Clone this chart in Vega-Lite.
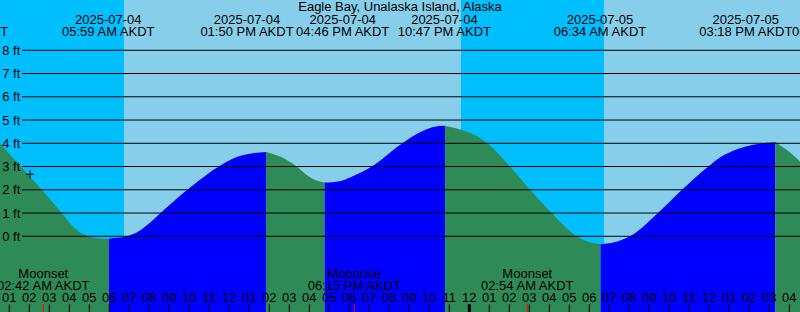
{
  "$schema": "https://vega.github.io/schema/vega-lite/v6.json",
  "width": 800,
  "height": 312,
  "autosize": "none",
  "padding": 0,
  "title": {"text": "Eagle Bay, Unalaska Island, Alaska", "offset": -24, "baseline": "alphabetic", "anchor": "middle", "frame": "group", "font": "Liberation Sans", "fontSize": 13, "fontWeight": "normal", "color": "black"},
  "config": {
    "view": {"stroke": null},
    "text": {"font": "Liberation Sans", "fontSize": 13, "color": "black"}
  },
  "datasets": {
    "tide": [
      {"h": 0.535, "ft": 4.0, "seg": "a", "dir": "falling"},
      {"h": 1.57, "ft": 3.0, "seg": "a", "dir": "falling"},
      {"h": 2.62, "ft": 2.0, "seg": "a", "dir": "falling"},
      {"h": 3.62, "ft": 1.0, "seg": "a", "dir": "falling"},
      {"h": 4.285, "ft": 0.34, "seg": "a", "dir": "falling"},
      {"h": 5.035, "ft": -0.02, "seg": "a", "dir": "falling"},
      {"h": 5.535, "ft": -0.1, "seg": "a", "dir": "falling"},
      {"h": 5.983, "ft": -0.12, "seg": "a", "dir": "falling"},
      {"h": 5.983, "ft": -0.12, "seg": "b", "dir": "rising"},
      {"h": 6.035, "ft": -0.1, "seg": "b", "dir": "rising"},
      {"h": 6.785, "ft": -0.02, "seg": "b", "dir": "rising"},
      {"h": 7.535, "ft": 0.25, "seg": "b", "dir": "rising"},
      {"h": 8.035, "ft": 0.58, "seg": "b", "dir": "rising"},
      {"h": 8.535, "ft": 0.98, "seg": "b", "dir": "rising"},
      {"h": 9.2, "ft": 1.49, "seg": "b", "dir": "rising"},
      {"h": 9.9, "ft": 2.0, "seg": "b", "dir": "rising"},
      {"h": 10.535, "ft": 2.43, "seg": "b", "dir": "rising"},
      {"h": 11.37, "ft": 2.95, "seg": "b", "dir": "rising"},
      {"h": 12.2, "ft": 3.35, "seg": "b", "dir": "rising"},
      {"h": 13.035, "ft": 3.55, "seg": "b", "dir": "rising"},
      {"h": 13.833, "ft": 3.63, "seg": "b", "dir": "rising"},
      {"h": 13.833, "ft": 3.63, "seg": "c", "dir": "falling"},
      {"h": 14.535, "ft": 3.43, "seg": "c", "dir": "falling"},
      {"h": 15.37, "ft": 3.0, "seg": "c", "dir": "falling"},
      {"h": 15.87, "ft": 2.64, "seg": "c", "dir": "falling"},
      {"h": 16.37, "ft": 2.4, "seg": "c", "dir": "falling"},
      {"h": 16.767, "ft": 2.31, "seg": "c", "dir": "falling"},
      {"h": 16.767, "ft": 2.31, "seg": "d", "dir": "rising"},
      {"h": 17.535, "ft": 2.37, "seg": "d", "dir": "rising"},
      {"h": 18.035, "ft": 2.53, "seg": "d", "dir": "rising"},
      {"h": 19.12, "ft": 3.0, "seg": "d", "dir": "rising"},
      {"h": 20.535, "ft": 3.93, "seg": "d", "dir": "rising"},
      {"h": 21.535, "ft": 4.47, "seg": "d", "dir": "rising"},
      {"h": 22.2, "ft": 4.7, "seg": "d", "dir": "rising"},
      {"h": 22.783, "ft": 4.75, "seg": "d", "dir": "rising"},
      {"h": 22.783, "ft": 4.75, "seg": "e", "dir": "falling"},
      {"h": 23.87, "ft": 4.5, "seg": "e", "dir": "falling"},
      {"h": 24.385, "ft": 4.3, "seg": "e", "dir": "falling"},
      {"h": 24.9, "ft": 4.0, "seg": "e", "dir": "falling"},
      {"h": 26.035, "ft": 3.0, "seg": "e", "dir": "falling"},
      {"h": 27.035, "ft": 2.0, "seg": "e", "dir": "falling"},
      {"h": 28.12, "ft": 1.0, "seg": "e", "dir": "falling"},
      {"h": 29.37, "ft": 0.0, "seg": "e", "dir": "falling"},
      {"h": 30.035, "ft": -0.26, "seg": "e", "dir": "falling"},
      {"h": 30.567, "ft": -0.34, "seg": "e", "dir": "falling"},
      {"h": 30.567, "ft": -0.34, "seg": "f", "dir": "rising"},
      {"h": 31.2, "ft": -0.27, "seg": "f", "dir": "rising"},
      {"h": 32.035, "ft": 0.0, "seg": "f", "dir": "rising"},
      {"h": 33.435, "ft": 1.0, "seg": "f", "dir": "rising"},
      {"h": 34.635, "ft": 2.0, "seg": "f", "dir": "rising"},
      {"h": 35.95, "ft": 3.0, "seg": "f", "dir": "rising"},
      {"h": 36.535, "ft": 3.39, "seg": "f", "dir": "rising"},
      {"h": 37.535, "ft": 3.79, "seg": "f", "dir": "rising"},
      {"h": 38.87, "ft": 4.02, "seg": "f", "dir": "rising"},
      {"h": 39.3, "ft": 4.05, "seg": "f", "dir": "rising"},
      {"h": 39.3, "ft": 4.05, "seg": "g", "dir": "falling"},
      {"h": 39.87, "ft": 3.72, "seg": "g", "dir": "falling"},
      {"h": 40.535, "ft": 3.22, "seg": "g", "dir": "falling"}
    ],
    "bands": [
      {"h": 0.535, "h2": 6.735, "period": "night"},
      {"h": 6.735, "h2": 23.585, "period": "day"},
      {"h": 23.585, "h2": 30.735, "period": "night"},
      {"h": 30.735, "h2": 40.535, "period": "day"}
    ],
    "levels": [
      {"ft": 0, "label": "0 ft"}, {"ft": 1, "label": "1 ft"}, {"ft": 2, "label": "2 ft"},
      {"ft": 3, "label": "3 ft"}, {"ft": 4, "label": "4 ft"}, {"ft": 5, "label": "5 ft"},
      {"ft": 6, "label": "6 ft"}, {"ft": 7, "label": "7 ft"}, {"ft": 8, "label": "8 ft"}
    ],
    "hours": [
      {"h": 1, "label": "01"}, {"h": 2, "label": "02"}, {"h": 3, "label": "03"}, {"h": 4, "label": "04"},
      {"h": 5, "label": "05"}, {"h": 6, "label": "06"}, {"h": 7, "label": "07"}, {"h": 8, "label": "08"},
      {"h": 9, "label": "09"}, {"h": 10, "label": "10"}, {"h": 11, "label": "11"}, {"h": 12, "label": "12"},
      {"h": 13, "label": "01"}, {"h": 14, "label": "02"}, {"h": 15, "label": "03"}, {"h": 16, "label": "04"},
      {"h": 17, "label": "05"}, {"h": 18, "label": "06"}, {"h": 19, "label": "07"}, {"h": 20, "label": "08"},
      {"h": 21, "label": "09"}, {"h": 22, "label": "10"}, {"h": 23, "label": "11"}, {"h": 24, "label": "12"},
      {"h": 25, "label": "01"}, {"h": 26, "label": "02"}, {"h": 27, "label": "03"}, {"h": 28, "label": "04"},
      {"h": 29, "label": "05"}, {"h": 30, "label": "06"}, {"h": 31, "label": "07"}, {"h": 32, "label": "08"},
      {"h": 33, "label": "09"}, {"h": 34, "label": "10"}, {"h": 35, "label": "11"}, {"h": 36, "label": "12"},
      {"h": 37, "label": "01"}, {"h": 38, "label": "02"}, {"h": 39, "label": "03"}, {"h": 40, "label": "04"}
    ],
    "tidelabels": [
      {"h": -1.385, "date": "2025-07-03", "time": "10:34 PM AKDT"},
      {"h": 5.95, "date": "2025-07-04", "time": "05:59 AM AKDT"},
      {"h": 12.885, "date": "2025-07-04", "time": "01:50 PM AKDT"},
      {"h": 17.67, "date": "2025-07-04", "time": "04:46 PM AKDT"},
      {"h": 22.755, "date": "2025-07-04", "time": "10:47 PM AKDT"},
      {"h": 30.535, "date": "2025-07-05", "time": "06:34 AM AKDT"},
      {"h": 37.825, "date": "2025-07-05", "time": "03:18 PM AKDT"},
      {"h": 42.47, "date": "2025-07-05", "time": "06:31 PM AKDT"}
    ],
    "moon": [
      {"h": 2.7, "event": "Moonset", "time": "02:42 AM AKDT"},
      {"h": 18.25, "event": "Moonrise", "time": "06:15 PM AKDT"},
      {"h": 26.9, "event": "Moonset", "time": "02:54 AM AKDT"}
    ],
    "marker": [{"h": 2.035, "ft": 2.667}]
  },
  "layer": [
    {
      "data": {"name": "bands"},
      "mark": {"type": "rect"},
      "encoding": {
        "x": {"field": "h", "type": "quantitative", "scale": {"domain": [0.535, 40.535], "nice": false, "zero": false}, "axis": null},
        "x2": {"field": "h2"},
        "color": {"field": "period", "type": "nominal", "scale": {"domain": ["night", "day", "falling", "rising"], "range": ["#00BFFF", "#87CEEB", "#2E8B57", "#0000FF"]}, "legend": null}
      }
    },
    {
      "data": {"name": "tide"},
      "mark": {"type": "area", "interpolate": "monotone"},
      "encoding": {
        "x": {"field": "h", "type": "quantitative", "scale": {"domain": [0.535, 40.535], "nice": false, "zero": false}, "axis": null},
        "y": {"field": "ft", "type": "quantitative", "stack": null, "scale": {"domain": [-3.256, 10.163], "nice": false, "zero": false}, "axis": null},
        "y2": {"datum": -3.256},
        "color": {"field": "dir", "type": "nominal", "scale": {"domain": ["night", "day", "falling", "rising"], "range": ["#00BFFF", "#87CEEB", "#2E8B57", "#0000FF"]}, "legend": null},
        "detail": {"field": "seg"}
      }
    },
    {
      "data": {"name": "levels"},
      "mark": {"type": "rule", "color": "black", "strokeWidth": 1},
      "encoding": {
        "x": {"datum": 1.635, "type": "quantitative", "axis": null},
        "x2": {"datum": 40.535},
        "y": {"field": "ft", "type": "quantitative", "axis": null}
      }
    },
    {
      "data": {"name": "levels"},
      "mark": {"type": "text", "align": "left", "baseline": "middle", "dy": 0.5},
      "encoding": {
        "x": {"datum": 0.645, "type": "quantitative", "axis": null},
        "y": {"field": "ft", "type": "quantitative", "axis": null},
        "text": {"field": "label"}
      }
    },
    {
      "data": {"name": "hours"},
      "mark": {"type": "text", "align": "center", "baseline": "alphabetic"},
      "encoding": {
        "x": {"field": "h", "type": "quantitative", "axis": null},
        "y": {"datum": -2.813, "type": "quantitative", "axis": null},
        "text": {"field": "label"}
      }
    },
    {
      "data": {"name": "hours"},
      "mark": {"type": "rule", "color": "black"},
      "encoding": {
        "x": {"field": "h", "type": "quantitative", "axis": null},
        "y": {"datum": -2.925, "type": "quantitative", "axis": null},
        "y2": {"datum": -3.256},
        "strokeWidth": {"condition": {"test": "datum.h == 24", "value": 3}, "value": 1}
      }
    },
    {
      "data": {"name": "tidelabels"},
      "mark": {"type": "text", "align": "center", "baseline": "alphabetic"},
      "encoding": {
        "x": {"field": "h", "type": "quantitative", "axis": null},
        "y": {"datum": 9.131, "type": "quantitative", "axis": null},
        "text": {"field": "date"}
      }
    },
    {
      "data": {"name": "tidelabels"},
      "mark": {"type": "text", "align": "center", "baseline": "alphabetic"},
      "encoding": {
        "x": {"field": "h", "type": "quantitative", "axis": null},
        "y": {"datum": 8.627, "type": "quantitative", "axis": null},
        "text": {"field": "time"}
      }
    },
    {
      "data": {"name": "moon"},
      "mark": {"type": "text", "align": "center", "baseline": "alphabetic"},
      "encoding": {
        "x": {"field": "h", "type": "quantitative", "axis": null},
        "y": {"datum": -1.781, "type": "quantitative", "axis": null},
        "text": {"field": "event"}
      }
    },
    {
      "data": {"name": "moon"},
      "mark": {"type": "text", "align": "center", "baseline": "alphabetic"},
      "encoding": {
        "x": {"field": "h", "type": "quantitative", "axis": null},
        "y": {"datum": -2.31, "type": "quantitative", "axis": null},
        "text": {"field": "time"}
      }
    },
    {
      "data": {"name": "moon"},
      "mark": {"type": "rule", "color": "red", "strokeWidth": 1},
      "encoding": {
        "x": {"field": "h", "type": "quantitative", "axis": null},
        "y": {"datum": -2.925, "type": "quantitative", "axis": null},
        "y2": {"datum": -3.256}
      }
    },
    {
      "data": {"name": "marker"},
      "mark": {"type": "point", "shape": "M-1,0L1,0M0,-1L0,1", "size": 64, "filled": false, "stroke": "black", "strokeWidth": 1, "opacity": 1},
      "encoding": {
        "x": {"field": "h", "type": "quantitative", "axis": null},
        "y": {"field": "ft", "type": "quantitative", "axis": null}
      }
    }
  ]
}
